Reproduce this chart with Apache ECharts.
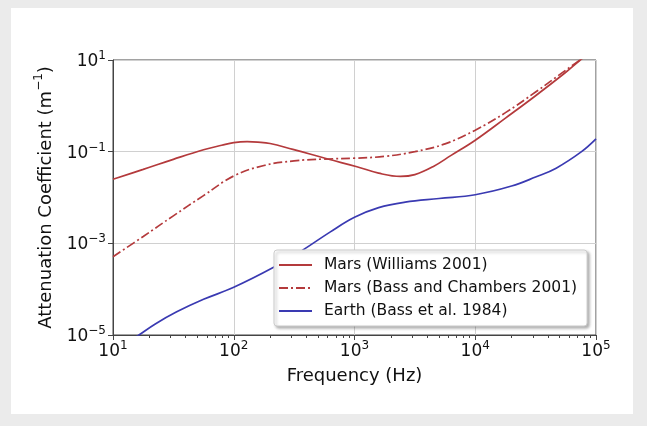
<!DOCTYPE html>
<html>
<head>
<meta charset="utf-8">
<script src="https://cdn.jsdelivr.net/npm/echarts@6/dist/echarts.min.js"></script>
<style>
  html, body { margin: 0; padding: 0; background: #ebebeb; width: 647px; height: 426px; overflow: hidden; }
  #chart { position: absolute; left: 11px; top: 8px; width: 622px; height: 406px; background: #ffffff; }
</style>
</head>
<body>
<div id="chart"></div>
<script>
// ---- Data ----
const seriesNames = ['Mars (Williams 2001)', 'Mars (Bass and Chambers 2001)', 'Earth (Bass et al. 1984)'];

const williamsFreq = [10, 17.8, 31.6, 56.2, 79.4, 100, 129, 158, 200, 309, 427, 600, 1047, 1585, 2400, 3162, 4467, 6310, 10000, 17800, 31600, 56200, 74100, 100000];
const williamsAtt  = [0.025, 0.041, 0.068, 0.11, 0.138, 0.158, 0.166, 0.162, 0.151, 0.112, 0.089, 0.069, 0.047, 0.034, 0.0288, 0.0316, 0.047, 0.083, 0.178, 0.54, 1.66, 5.4, 10, 18.2];

const bassChFreq = [10, 17.8, 31.6, 56.2, 100, 178, 316, 562, 1000, 1780, 3160, 5620, 10000, 17800, 31600, 56200, 100000];
const bassChAtt  = [5.1e-4, 1.41e-3, 3.98e-3, 0.011, 0.0295, 0.050, 0.063, 0.069, 0.072, 0.079, 0.10, 0.148, 0.295, 0.71, 2.0, 6.0, 17.8];

const earthFreq = [12.6, 16.4, 22.4, 33.7, 56.2, 100, 214, 372, 631, 1000, 1585, 2630, 5010, 10000, 20000, 31600, 46800, 75900, 100000];
const earthAtt  = [6.3e-6, 1e-5, 1.74e-5, 3.2e-5, 6.0e-5, 1.1e-4, 3.0e-4, 7.1e-4, 1.78e-3, 3.7e-3, 6.0e-3, 7.9e-3, 9.5e-3, 0.0115, 0.0178, 0.028, 0.0437, 0.1, 0.19];

// minor tick positions on the frequency axis
const xMinorTicks = [20,30,40,50,60,70,80,90, 200,300,400,500,600,700,800,900,
                     2000,3000,4000,5000,6000,7000,8000,9000, 20000,30000,40000,50000,60000,70000,80000,90000];

const RED = '#b43a3c';
const BLUE = '#3a3ab2';
const FONT = 'DejaVu Sans';

function pairs(xs, ys) { return xs.map((x, i) => [x, ys[i]]); }
function supLabel(v) {
  const e = Math.round(Math.log10(v));
  return '{b|10}{s|' + String(e).replace('-', '\u2212') + '}';
}
const tickRich = {
  b: { fontSize: 17, fontFamily: FONT, color: '#111', lineHeight: 20, verticalAlign: 'bottom' },
  s: { fontSize: 12, fontFamily: FONT, color: '#111', lineHeight: 12, verticalAlign: 'top' }
};

const chart = echarts.init(document.getElementById('chart'), null, { renderer: 'canvas' });
chart.setOption({
  animation: false,
  backgroundColor: '#ffffff',
  grid: { left: 102, top: 52, width: 483, height: 275, show: true, borderColor: '#444', borderWidth: 1, backgroundColor: 'transparent' },
  xAxis: [{
    type: 'log', logBase: 10, min: 10, max: 100000, interval: 1,
    position: 'bottom',
    axisLine: { show: true, lineStyle: { color: '#444', width: 1 } },
    axisTick: { show: true, inside: false, length: 5, lineStyle: { color: '#444' } },
    axisLabel: { show: true, margin: 5, formatter: supLabel, rich: tickRich },
    splitLine: { show: true, lineStyle: { color: '#d0d0d0', width: 1 } },
    name: 'Frequency (Hz)', nameLocation: 'middle', nameGap: 32,
    nameTextStyle: { fontSize: 18, fontFamily: FONT, color: '#111' }
  }, {
    type: 'value', min: 1, max: 5, gridIndex: 0,
    position: 'bottom', offset: 0,
    axisLine: { show: false },
    axisTick: { show: true, inside: false, length: 3, lineStyle: { color: '#444' }, customValues: xMinorTicks.map(Math.log10) },
    axisLabel: { show: false },
    splitLine: { show: false }
  }],
  yAxis: {
    type: 'log', logBase: 10, min: 1e-5, max: 10, interval: 2,
    axisLine: { show: true, lineStyle: { color: '#444', width: 1 } },
    axisTick: { show: true, inside: false, length: 5, lineStyle: { color: '#444' } },
    axisLabel: { show: true, margin: 7, formatter: supLabel, rich: tickRich },
    splitLine: { show: true, lineStyle: { color: '#d0d0d0', width: 1 } },
    name: '{n|Attenuation Coefficient (m}{s|\u22121}{n|)}', nameLocation: 'middle', nameGap: 58, nameRotate: 90,
    nameTextStyle: {
      rich: {
        n: { fontSize: 18, fontFamily: FONT, color: '#111', lineHeight: 22, verticalAlign: 'bottom' },
        s: { fontSize: 12, fontFamily: FONT, color: '#111', lineHeight: 13, verticalAlign: 'top' }
      }
    }
  },
  legend: {
    orient: 'vertical', left: 263, top: 242,
    data: seriesNames,
    itemWidth: 33, itemHeight: 14, itemGap: 7,
    padding: [7, 10, 7, 4],
    backgroundColor: '#ffffff', borderColor: '#cccccc', borderWidth: 1, borderRadius: 3,
    shadowColor: 'rgba(0,0,0,0.3)', shadowBlur: 3, shadowOffsetX: 2, shadowOffsetY: 2,
    itemStyle: { opacity: 0 },
    textStyle: { fontSize: 15.5, fontFamily: FONT, color: '#111', lineHeight: 16, padding: [0, 0, 0, 7] }
  },
  series: [{
    name: seriesNames[0], type: 'line', xAxisIndex: 0, data: pairs(williamsFreq, williamsAtt),
    showSymbol: false, symbol: 'none', smooth: 0.4,
    lineStyle: { color: RED, width: 1.7 }, itemStyle: { color: RED }
  }, {
    name: seriesNames[1], type: 'line', xAxisIndex: 0, data: pairs(bassChFreq, bassChAtt),
    showSymbol: false, symbol: 'none', smooth: 0.4,
    lineStyle: { color: RED, width: 1.7, type: [9, 3, 2, 3] }, itemStyle: { color: RED }
  }, {
    name: seriesNames[2], type: 'line', xAxisIndex: 0, data: pairs(earthFreq, earthAtt),
    showSymbol: false, symbol: 'none', smooth: 0.4,
    lineStyle: { color: BLUE, width: 1.7 }, itemStyle: { color: BLUE }
  }]
});
</script>
</body>
</html>
